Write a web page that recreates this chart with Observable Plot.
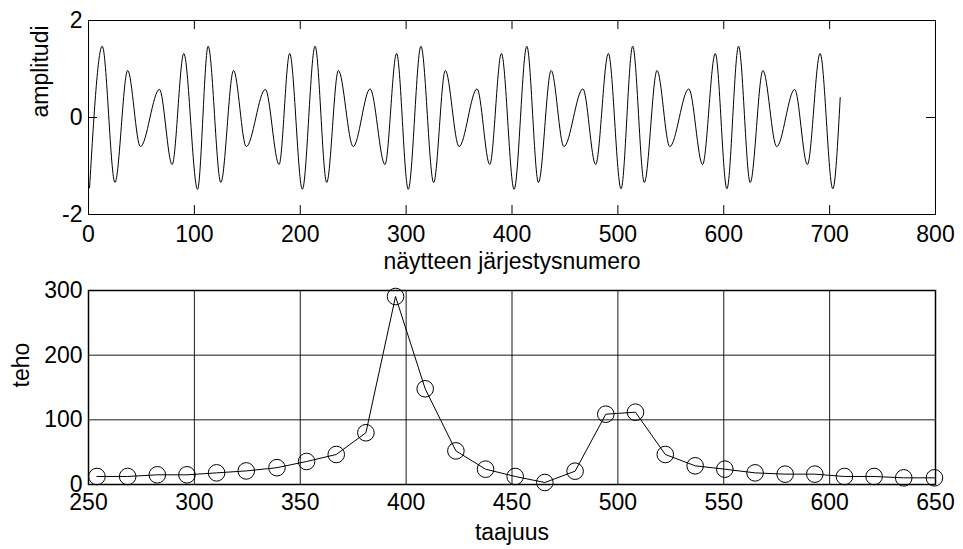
<!DOCTYPE html>
<html><head><meta charset="utf-8">
<script src="https://cdn.jsdelivr.net/npm/d3@7"></script>
<script src="https://cdn.jsdelivr.net/npm/@observablehq/plot@0.6"></script>
<style>
html,body{margin:0;padding:0;background:#fff;}
#chart{position:relative;width:963px;height:549px;overflow:hidden;background:#fff}
#chart svg{position:absolute;left:0;}
</style></head><body><div id="chart"></div>
<script>
// --- top panel: waveform (local extrema) ---
const sampleIdx = [1,13,25,37,49,67,79,90,103,113,
  125,137,149,167,180,190,202,214,225,236,
  250,266,280,291,302,314,326,337,350,367,
  379,390,402,414,425,437,449,467,479,491,
  503,514,525,537,549,567,580,592,603,614,
  625,637,650,667,679,691,703,710];
const amplitude = [-1.45,1.47,-1.34,0.97,-0.60,0.58,-0.97,1.32,-1.48,1.47,
  -1.34,0.97,-0.60,0.58,-0.97,1.32,-1.48,1.47,-1.34,0.97,
  -0.60,0.59,-0.97,1.32,-1.48,1.47,-1.34,0.97,-0.60,0.59,
  -0.97,1.32,-1.48,1.47,-1.34,0.97,-0.60,0.59,-0.97,1.32,
  -1.47,1.47,-1.34,0.97,-0.60,0.59,-0.97,1.32,-1.47,1.47,
  -1.34,0.97,-0.60,0.58,-0.97,1.32,-1.47,0.41];
const topXTicks = [0,100,200,300,400,500,600,700,800];
const topYTicks = [-2,0,2];
const topXLabel = "näytteen järjestysnumero";
const topYLabel = "amplitudi";

// --- bottom panel: power spectrum ---
const freqHz = [254,268.5,282.5,296.5,310.5,324.5,339,353,367,381,
  395,409,423.5,437.5,451.5,465.5,479.8,494.3,508.3,522.4,
  536.5,550.5,564.8,579,593,607,621,635,649.5];
const power = [12.4,12.4,15,15,18,21,26,35.6,46.4,80,
  290.7,148,52,23.7,12.4,3.1,20.6,108.7,111.8,46.4,
  28.9,23.7,18,16,16,12.4,12.4,10.3,10.3];
const botXTicks = [250,300,350,400,450,500,550,600,650];
const botYTicks = [0,100,200,300];
const botXLabel = "taajuus";
const botYLabel = "teho";

const font = "'Liberation Sans', Arial, Helvetica, sans-serif";
const style = {fontFamily: font, fontSize: "23px", color: "black", background: "transparent", overflow: "visible"};
const fmt = d => String(d);

const wave = sampleIdx.map((s, i) => ({s, a: amplitude[i]}));
const spec = freqHz.map((f, i) => ({f, p: power[i]}));

const topPlot = Plot.plot({
  width: 963, height: 275,
  marginLeft: 88, marginRight: 28, marginTop: 20, marginBottom: 61,
  style,
  x: {domain: [0, 800]},
  y: {domain: [-2, 2]},
  marks: [
    Plot.ruleX(topXTicks, {x: d => d, insetTop: 185, stroke: "black"}),
    Plot.ruleX(topXTicks, {x: d => d, insetBottom: 185, stroke: "black"}),
    Plot.ruleY(topYTicks, {y: d => d, insetRight: 838, stroke: "black"}),
    Plot.ruleY(topYTicks, {y: d => d, insetLeft: 838, stroke: "black"}),
    Plot.line(wave, {x: "s", y: "a", curve: "monotone-x", stroke: "black", strokeWidth: 1}),
    Plot.frame({stroke: "black", strokeWidth: 1}),
    Plot.axisX(topXTicks, {tickSize: 0, tickPadding: 11, tickFormat: fmt, label: null}),
    Plot.axisY(topYTicks, {tickSize: 0, tickPadding: 6, tickFormat: fmt, label: null}),
    Plot.text([topXLabel], {text: d => d, frameAnchor: "bottom", dy: 54.6}),
    Plot.text([topYLabel], {text: d => d, frameAnchor: "left", dx: -47.5, rotate: -90})
  ]
});

const botPlot = Plot.plot({
  width: 963, height: 274,
  marginLeft: 88, marginRight: 28, marginTop: 15, marginBottom: 65,
  style,
  x: {domain: [250, 650]},
  y: {domain: [0, 300]},
  marks: [
    Plot.gridX(botXTicks, {stroke: "black", strokeOpacity: 0.9, strokeWidth: 1}),
    Plot.gridY(botYTicks, {stroke: "black", strokeOpacity: 0.9, strokeWidth: 1}),
    Plot.frame({stroke: "black", strokeWidth: 1.5}),
    Plot.line(spec, {x: "f", y: "p", stroke: "black", strokeWidth: 1}),
    Plot.dot(spec, {x: "f", y: "p", r: 8.3, stroke: "black", fill: "none", strokeWidth: 1}),
    Plot.axisX(botXTicks, {tickSize: 0, tickPadding: 9, tickFormat: fmt, label: null}),
    Plot.axisY(botYTicks, {tickSize: 0, tickPadding: 6, tickFormat: fmt, label: null}),
    Plot.text([botXLabel], {text: d => d, frameAnchor: "bottom", dy: 55.6}),
    Plot.text([botYLabel], {text: d => d, frameAnchor: "left", dx: -67, rotate: -90})
  ]
});

const chart = document.getElementById("chart");
topPlot.style.top = "0px";
botPlot.style.top = "275px";
chart.appendChild(topPlot);
chart.appendChild(botPlot);
</script>
</body></html>
